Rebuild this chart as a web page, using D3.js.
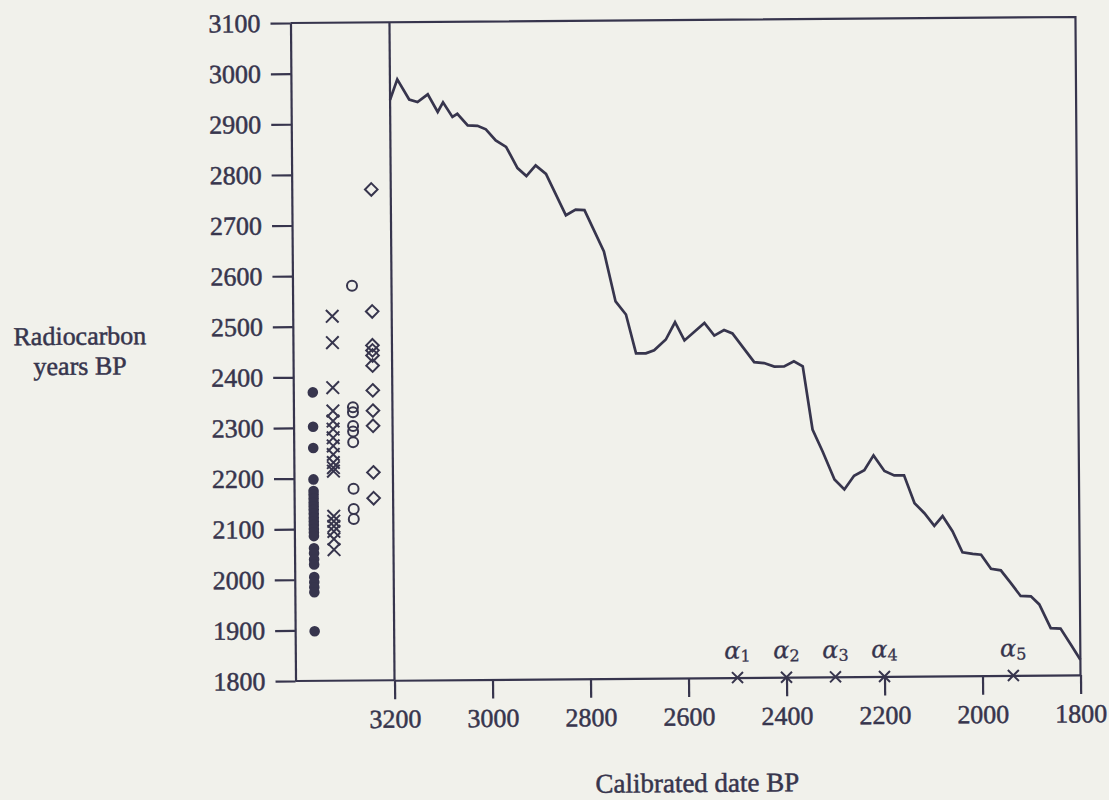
<!DOCTYPE html>
<html>
<head>
<meta charset="utf-8">
<script src="https://cdn.jsdelivr.net/npm/d3@7"></script>
<style>
  html, body { margin: 0; background: #f1f1eb; }
  svg { display: block; }
</style>
</head>
<body>
<svg id="chart" width="1109" height="800"></svg>
<script>
// Calibration curve (calibrated date BP -> radiocarbon years BP)
const calYears = [3200, 3185, 3161, 3144, 3123, 3103, 3092, 3073, 3063, 3042, 3022, 3005, 2985, 2964, 2941, 2923, 2904, 2883,
  2843, 2823, 2805, 2766, 2743, 2722, 2702, 2682, 2665, 2641, 2622, 2603, 2562, 2542, 2522, 2505, 2461, 2441, 2420, 2400,
  2380, 2362, 2343, 2323, 2299, 2279, 2259, 2238, 2219, 2197, 2177, 2157, 2136, 2116, 2096, 2079, 2059, 2039, 2018, 2001,
  1981, 1961, 1941, 1921, 1900, 1883, 1860, 1840, 1819, 1800];
const c14Years = [2947, 2987, 2947, 2942, 2957, 2922, 2941, 2912, 2918, 2895, 2894, 2887, 2865, 2852, 2810, 2794, 2815, 2798,
  2716, 2727, 2726, 2644, 2545, 2519, 2442, 2442, 2448, 2469, 2503, 2467, 2501, 2476, 2487, 2480, 2423, 2421, 2414, 2414,
  2424, 2414, 2289, 2246, 2190, 2170, 2197, 2208, 2237, 2206, 2197, 2197, 2142, 2122, 2097, 2116, 2086, 2044, 2041, 2039,
  2011, 2008, 1983, 1957, 1956, 1940, 1893, 1892, 1860, 1830];

// Radiocarbon determinations, one column per group
const groupNames = ['dot', 'cross', 'circle', 'diamond'];
const dotValues = [2370, 2302, 2260, 2198, 2175, 2168, 2160, 2152, 2145, 2138, 2130, 2122, 2115, 2108, 2100, 2093, 2086,
  2062, 2052, 2040, 2030, 2005, 1995, 1985, 1975, 1898];
const crossValues = [2520, 2468, 2379, 2333, 2313, 2297, 2280, 2264, 2247, 2231, 2221, 2214, 2125, 2115, 2105, 2095, 2080, 2059];
const circleValues = [2580, 2340, 2330, 2303, 2292, 2271, 2179, 2139, 2119];
const diamondValues = [2770, 2529, 2462, 2452, 2442, 2422, 2373, 2333, 2303, 2211, 2160];

// Phase boundaries on the calendar axis
const alphaLabels = ['1', '2', '3', '4', '5'];
const alphaValues = [2500, 2400, 2300, 2200, 1937];

const yTickValues = [1800, 1900, 2000, 2100, 2200, 2300, 2400, 2500, 2600, 2700, 2800, 2900, 3000, 3100];
const xTickValues = [3200, 3000, 2800, 2600, 2400, 2200, 2000, 1800];

const ink = '#37354d';
const font = "'Liberation Serif', 'Times New Roman', serif";

const svg = d3.select('#chart');
// the scanned page is slightly tilted
const root = svg.append('g').attr('transform', 'rotate(-0.44 685 350)');

const plotLeft = 293, divider = 392, plotRight = 1078, plotTop = 20, plotBottom = 678;
const x = d3.scaleLinear().domain([3200, 1800]).range([divider, plotRight]);
const y = d3.scaleLinear().domain([1800, 3100]).range([plotBottom, plotTop]);
const gx = d3.scalePoint().domain(groupNames).range([plotLeft, divider]).padding(0.975);

// frame
const frame = root.append('g').attr('stroke', ink).attr('stroke-width', 2.2).attr('fill', 'none');
frame.append('path').attr('d', `M${plotLeft},${plotTop}H${plotRight}V${plotBottom}`);
frame.append('path').attr('d', `M${plotLeft},${plotBottom}H${divider}`);
frame.append('path').attr('d', `M${divider},${plotTop}V${plotBottom}`);

// y axis
const yAxis = root.append('g').attr('transform', `translate(${plotLeft},0)`)
  .call(d3.axisLeft(y).tickValues(yTickValues).tickSize(20).tickSizeOuter(0).tickPadding(10).tickFormat(d3.format('d')));
// x axis
const xAxis = root.append('g').attr('transform', `translate(0,${plotBottom})`)
  .call(d3.axisBottom(x).tickValues(xTickValues).tickSize(19).tickSizeOuter(0).tickPadding(10).tickFormat(d3.format('d')));

[yAxis, xAxis].forEach(a => {
  a.selectAll('path, line').attr('stroke', ink).attr('stroke-width', 2.2);
  a.selectAll('text').attr('fill', ink).attr('font-family', font).attr('font-size', 26)
    .attr('stroke', ink).attr('stroke-width', 0.5);
});

// axis titles
const ytitle = root.append('text').attr('x', 80).attr('y', 340).attr('text-anchor', 'middle')
  .attr('font-family', font).attr('font-size', 26).attr('fill', ink).attr('stroke', ink).attr('stroke-width', 0.5);
ytitle.append('tspan').attr('x', 80).text('Radiocarbon');
ytitle.append('tspan').attr('x', 80).attr('dy', 30).text('years BP');

root.append('text').attr('x', 694).attr('y', 792).attr('text-anchor', 'middle')
  .attr('font-family', font).attr('font-size', 27).attr('fill', ink).attr('stroke', ink).attr('stroke-width', 0.5)
  .text('Calibrated date BP');

// calibration curve
const line = d3.line().x(d => x(d[0])).y(d => y(d[1]));
root.append('path')
  .datum(d3.zip(calYears, c14Years))
  .attr('d', line)
  .attr('fill', 'none').attr('stroke', ink).attr('stroke-width', 2.7).attr('stroke-linejoin', 'miter');

// markers
const marks = root.append('g');
marks.selectAll('circle.dot').data(dotValues).join('circle')
  .attr('class', 'dot').attr('cx', gx('dot')).attr('cy', d => y(d)).attr('r', 5.3).attr('fill', ink);

const cross = (cx, cy, s) => `M${cx - s},${cy - s}L${cx + s},${cy + s}M${cx - s},${cy + s}L${cx + s},${cy - s}`;
marks.selectAll('path.cross').data(crossValues).join('path')
  .attr('class', 'cross').attr('d', d => cross(gx('cross'), y(d), 6.3))
  .attr('stroke', ink).attr('stroke-width', 2).attr('fill', 'none');

marks.selectAll('circle.ring').data(circleValues).join('circle')
  .attr('class', 'ring').attr('cx', gx('circle')).attr('cy', d => y(d)).attr('r', 5)
  .attr('fill', 'none').attr('stroke', ink).attr('stroke-width', 2);

const diamond = (cx, cy, s) => `M${cx},${cy - s}L${cx + s},${cy}L${cx},${cy + s}L${cx - s},${cy}Z`;
marks.selectAll('path.diamond').data(diamondValues).join('path')
  .attr('class', 'diamond').attr('d', d => diamond(gx('diamond'), y(d), 6.3))
  .attr('stroke', ink).attr('stroke-width', 2).attr('fill', 'none');

// alpha boundaries on the calendar axis
marks.selectAll('path.alpha').data(alphaValues).join('path')
  .attr('class', 'alpha').attr('d', d => cross(x(d), plotBottom, 5.5))
  .attr('stroke', ink).attr('stroke-width', 2);

const alphaText = root.selectAll('text.alpha').data(alphaValues).join('text')
  .attr('class', 'alpha').attr('x', d => x(d)).attr('y', 659).attr('text-anchor', 'middle')
  .attr('font-family', "'DejaVu Serif', serif").attr('font-style', 'italic').attr('font-size', 24)
  .attr('fill', ink).attr('stroke', ink).attr('stroke-width', 0.3);
alphaText.append('tspan').text('α');
alphaText.append('tspan').attr('font-style', 'normal').attr('font-size', 16).attr('dy', 3)
  .text((d, i) => alphaLabels[i]);
</script>
</body>
</html>
